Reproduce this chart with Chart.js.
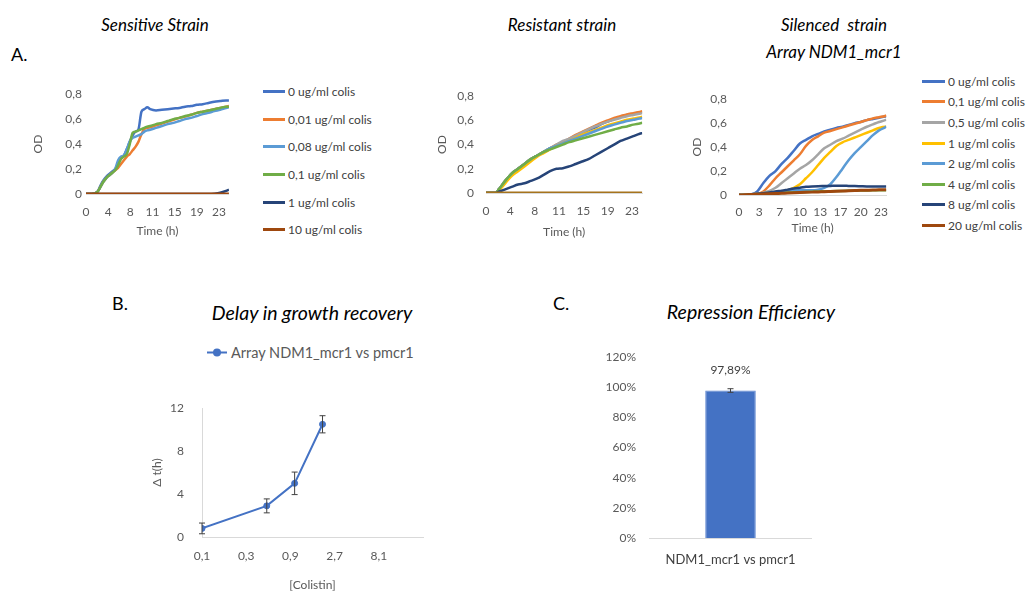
<!DOCTYPE html>
<html>
<head>
<meta charset="utf-8">
<script src="https://cdn.jsdelivr.net/npm/chart.js@4.4.0/dist/chart.umd.min.js"></script>
<style>
  body { margin: 0; background: #fff; font-family: Lato, "Open Sans", sans-serif; }
  #fig { position: relative; width: 1027px; height: 592px; overflow: hidden; background: #fff; }
  #fig canvas { position: absolute; }
  .txt { position: absolute; transform: translate(-50%, -50%); white-space: pre; color: #000; }
  .ttl { font-style: italic; font-size: 17px; }
  .big { font-size: 19.5px; }
  .tag { position: absolute; transform: translateY(-50%); font-size: 18px; color: #000; }
  .legend { position: absolute; font-size: 12px; color: #404040; }
  .legend .row { display: flex; align-items: center; white-space: nowrap; }
  .legend .swatch { display: inline-block; height: 3px; margin-right: 3px; }
  #legB { font-size: 14.5px; color: #595959; display: flex; align-items: center; transform: translateY(-50%); }
  #legB .mk { position: relative; width: 20px; height: 2px; background: #4472C4; margin-right: 4px; }
  #legB .mk i { position: absolute; left: 6px; top: -3px; width: 8px; height: 8px; border-radius: 50%; background: #4472C4; }
</style>
</head>
<body>
<div id="fig">
  <div class="txt ttl" style="left:155px;top:24px">Sensitive Strain</div>
  <div class="tag" style="left:11px;top:54px">A.</div>
  <div class="txt ttl" style="left:562px;top:24px">Resistant strain</div>
  <div class="txt ttl" style="left:834px;top:24px">Silenced  strain</div>
  <div class="txt ttl" style="left:834px;top:51px">Array NDM1_mcr1</div>

  <div class="tag" style="left:112px;top:303px">B.</div>
  <div class="txt ttl big" style="left:312px;top:312px">Delay in growth recovery</div>
  <div class="tag" style="left:553px;top:303px">C.</div>
  <div class="txt ttl big" style="left:751px;top:311px">Repression Efficiency</div>

  <canvas id="sensChart" width="217" height="157" style="left:20px;top:83px"></canvas>
  <canvas id="resChart" width="225" height="164" style="left:425px;top:77px"></canvas>
  <canvas id="silChart" width="218" height="157" style="left:680px;top:80px"></canvas>
  <canvas id="delayChart" width="288" height="209" style="left:140px;top:383px"></canvas>
  <canvas id="effChart" width="212" height="241" style="left:600px;top:337px"></canvas>

  <div class="legend" id="legSens" style="left:263px;top:78px"></div>
  <div class="legend" id="legSil" style="left:922px;top:71px"></div>
  <div class="legend" id="legB" style="left:207px;top:352px"></div>
</div>

<script>
// ---- growth curves (OD over time) ----
const concLabelsSens = ['0 ug/ml colis', '0,01 ug/ml colis', '0,08 ug/ml colis', '0,1 ug/ml colis', '1 ug/ml colis', '10 ug/ml colis'];
const concLabelsSil = ['0 ug/ml colis', '0,1 ug/ml colis', '0,5 ug/ml colis', '1 ug/ml colis', '2 ug/ml colis', '4 ug/ml colis', '8 ug/ml colis', '20 ug/ml colis'];
const colorsSens = ['#4472C4', '#ED7D31', '#5B9BD5', '#70AD47', '#264478', '#9E480E'];
const colorsRes = ['#4472C4', '#ED7D31', '#A5A5A5', '#FFC000', '#5B9BD5', '#70AD47', '#264478', '#A5731D'];
const colorsSil = ['#4472C4', '#ED7D31', '#A5A5A5', '#FFC000', '#5B9BD5', '#70AD47', '#264478', '#9E480E'];

// sensitive strain
const hoursSens = [0, 1, 2, 2.5, 3, 3.5, 4, 4.5, 5, 5.5, 6, 6.5, 7, 7.5, 8, 8.5, 9, 9.5, 10, 10.5, 11, 12, 13, 14, 15, 16, 17, 18, 19, 20, 21, 22, 23, 24, 24.5];
const sens0   = [0, 0, 0.02, 0.07, 0.11, 0.14, 0.16, 0.18, 0.20, 0.24, 0.29, 0.31, 0.36, 0.42, 0.47, 0.50, 0.52, 0.66, 0.68, 0.695, 0.68, 0.67, 0.675, 0.68, 0.685, 0.69, 0.70, 0.705, 0.715, 0.72, 0.73, 0.74, 0.745, 0.75, 0.75];
const sens001 = [0, 0, 0.02, 0.06, 0.10, 0.13, 0.15, 0.17, 0.19, 0.21, 0.24, 0.27, 0.30, 0.32, 0.35, 0.38, 0.42, 0.48, 0.52, 0.53, 0.535, 0.55, 0.565, 0.58, 0.595, 0.61, 0.62, 0.635, 0.65, 0.66, 0.67, 0.68, 0.69, 0.70, 0.705];
const sens008 = [0, 0, 0.02, 0.06, 0.10, 0.13, 0.15, 0.17, 0.20, 0.27, 0.30, 0.31, 0.36, 0.42, 0.45, 0.46, 0.47, 0.48, 0.50, 0.51, 0.515, 0.53, 0.545, 0.56, 0.57, 0.585, 0.60, 0.61, 0.625, 0.64, 0.65, 0.665, 0.675, 0.69, 0.695];
const sens01  = [0, 0, 0.02, 0.06, 0.10, 0.13, 0.15, 0.17, 0.19, 0.23, 0.28, 0.30, 0.32, 0.40, 0.49, 0.50, 0.51, 0.52, 0.53, 0.54, 0.545, 0.56, 0.57, 0.585, 0.60, 0.61, 0.625, 0.635, 0.65, 0.66, 0.67, 0.68, 0.69, 0.70, 0.70];
const sens1   = [0, 0, 0, 0, 0, 0, 0, 0, 0, 0, 0, 0, 0, 0, 0, 0, 0, 0, 0, 0, 0, 0, 0, 0, 0, 0, 0, 0, 0, 0, 0, 0.003, 0.01, 0.025, 0.035];
const sens10  = [0, 0, 0, 0, 0, 0, 0, 0, 0, 0, 0, 0, 0, 0, 0, 0, 0, 0, 0, 0, 0, 0, 0, 0, 0, 0, 0, 0, 0, 0, 0, 0, 0, 0, 0];

// resistant strain
const hoursRes = [0, 1, 1.5, 2, 3, 4, 5, 6, 7, 8, 9, 10, 11, 12, 13, 14, 15, 16, 17, 18, 19, 20, 21, 22, 23, 24, 24.4];
const res0   = [0, 0, 0, 0.03, 0.10, 0.16, 0.20, 0.24, 0.28, 0.31, 0.34, 0.37, 0.39, 0.42, 0.44, 0.47, 0.49, 0.52, 0.54, 0.57, 0.59, 0.61, 0.63, 0.645, 0.655, 0.665, 0.665];
const res01  = [0, 0, 0, 0.03, 0.10, 0.16, 0.20, 0.24, 0.28, 0.31, 0.34, 0.37, 0.40, 0.42, 0.45, 0.48, 0.505, 0.53, 0.555, 0.58, 0.60, 0.62, 0.635, 0.65, 0.66, 0.67, 0.675];
const res05  = [0, 0, 0, 0.03, 0.10, 0.16, 0.20, 0.24, 0.28, 0.31, 0.34, 0.37, 0.40, 0.43, 0.45, 0.475, 0.50, 0.525, 0.55, 0.57, 0.59, 0.605, 0.62, 0.635, 0.645, 0.655, 0.66];
const res1   = [0, 0, 0, 0.02, 0.08, 0.14, 0.18, 0.22, 0.26, 0.30, 0.33, 0.36, 0.39, 0.41, 0.43, 0.455, 0.48, 0.50, 0.52, 0.54, 0.56, 0.575, 0.59, 0.605, 0.615, 0.625, 0.63];
const res2   = [0, 0, 0, 0.03, 0.10, 0.16, 0.20, 0.24, 0.28, 0.31, 0.34, 0.37, 0.39, 0.41, 0.43, 0.45, 0.47, 0.49, 0.51, 0.53, 0.55, 0.565, 0.58, 0.595, 0.605, 0.615, 0.62];
const res4   = [0, 0, 0, 0.03, 0.10, 0.16, 0.20, 0.24, 0.28, 0.31, 0.34, 0.36, 0.38, 0.40, 0.42, 0.435, 0.45, 0.465, 0.48, 0.495, 0.51, 0.525, 0.54, 0.55, 0.565, 0.575, 0.58];
const res8   = [0, 0, 0, 0.01, 0.03, 0.05, 0.07, 0.08, 0.10, 0.12, 0.15, 0.18, 0.20, 0.205, 0.22, 0.24, 0.26, 0.28, 0.31, 0.34, 0.37, 0.40, 0.43, 0.45, 0.47, 0.49, 0.495];
const res20  = [0, 0, 0, 0, 0, 0, 0, 0, 0, 0, 0, 0, 0, 0, 0, 0, 0, 0, 0, 0, 0, 0, 0, 0, 0, 0, 0];

// silenced strain (array NDM1_mcr1)
const hoursSil = [0, 1, 2, 3, 4, 5, 6, 7, 8, 9, 10, 11, 12, 13, 14, 15, 16, 17, 18, 19, 20, 21, 22, 23, 24, 24.2];
const sil0  = [0, 0, 0.005, 0.03, 0.10, 0.16, 0.20, 0.26, 0.31, 0.37, 0.43, 0.46, 0.49, 0.51, 0.53, 0.545, 0.56, 0.57, 0.585, 0.60, 0.61, 0.625, 0.635, 0.645, 0.655, 0.655];
const sil01 = [0, 0, 0.005, 0.01, 0.03, 0.08, 0.14, 0.19, 0.24, 0.29, 0.34, 0.41, 0.46, 0.49, 0.52, 0.535, 0.55, 0.565, 0.58, 0.595, 0.61, 0.625, 0.64, 0.65, 0.66, 0.665];
const sil05 = [0, 0, 0.005, 0.01, 0.02, 0.035, 0.06, 0.10, 0.14, 0.18, 0.22, 0.25, 0.29, 0.34, 0.39, 0.42, 0.45, 0.47, 0.495, 0.52, 0.545, 0.57, 0.59, 0.61, 0.625, 0.63];
const sil1  = [0, 0, 0.005, 0.01, 0.015, 0.02, 0.025, 0.03, 0.04, 0.06, 0.09, 0.14, 0.19, 0.25, 0.31, 0.36, 0.41, 0.44, 0.46, 0.48, 0.50, 0.52, 0.54, 0.56, 0.57, 0.57];
const sil2  = [0, 0, 0.005, 0.01, 0.015, 0.02, 0.025, 0.03, 0.035, 0.04, 0.04, 0.04, 0.04, 0.045, 0.06, 0.09, 0.15, 0.22, 0.29, 0.35, 0.40, 0.45, 0.50, 0.54, 0.565, 0.57];
const sil4  = [0, 0, 0.003, 0.006, 0.01, 0.012, 0.015, 0.017, 0.02, 0.022, 0.024, 0.026, 0.028, 0.03, 0.031, 0.032, 0.033, 0.034, 0.035, 0.036, 0.037, 0.038, 0.039, 0.04, 0.04, 0.04];
const sil8  = [0, 0, 0.005, 0.01, 0.015, 0.02, 0.03, 0.035, 0.045, 0.055, 0.06, 0.068, 0.072, 0.074, 0.075, 0.076, 0.077, 0.077, 0.076, 0.075, 0.073, 0.071, 0.07, 0.07, 0.07, 0.07];
const sil20 = [0, 0.002, 0.004, 0.006, 0.008, 0.010, 0.012, 0.014, 0.016, 0.018, 0.020, 0.022, 0.024, 0.026, 0.027, 0.029, 0.031, 0.033, 0.035, 0.037, 0.039, 0.040, 0.041, 0.043, 0.044, 0.045];

// axis ticks
const odTicks = [0, 0.2, 0.4, 0.6, 0.8];
const odTickLabels = ['0', '0,2', '0,4', '0,6', '0,8'];
const hourTicksA = [0, 3.8, 7.6, 11.4, 15.2, 19, 22.8];
const hourTickLabelsA = ['0', '4', '8', '11', '15', '19', '23'];
const hourTicksSil = [0, 3.33, 6.67, 10, 13.33, 16.67, 20, 23.33];
const hourTickLabelsSil = ['0', '3', '7', '10', '13', '17', '20', '23'];

// ---- delay in growth recovery ----
const colistin = [0.1, 0.5, 1, 2];
const delayHours = [0.8, 2.9, 5.0, 10.5];
const delayErr = [0.5, 0.65, 1.05, 0.8];
const colistinTicks = [0.1, 0.3, 0.9, 2.7, 8.1];
const colistinTickLabels = ['0,1', '0,3', '0,9', '2,7', '8,1'];
const delayTicks = [0, 4, 8, 12];

// ---- repression efficiency ----
const effLabels = ['NDM1_mcr1 vs pmcr1'];
const effValues = [0.9789];
const effErr = [0.012];
const pctTicks = [0, 0.2, 0.4, 0.6, 0.8, 1.0, 1.2];

Chart.defaults.font.family = 'Lato, "Open Sans", sans-serif';
Chart.defaults.font.size = 12;
Chart.defaults.color = '#595959';

const tickGrey = '#595959';
const axisLine = '#D9D9D9';

// vertical error bars from dataset.errors
const errorBars = {
  id: 'errorBars',
  afterDatasetsDraw(chart) {
    const ctx = chart.ctx;
    chart.data.datasets.forEach((ds, i) => {
      if (!ds.errors) return;
      const meta = chart.getDatasetMeta(i);
      const yScale = chart.scales[meta.yAxisID];
      meta.data.forEach((el, j) => {
        const v = meta.controller.getParsed(j).y;
        const e = ds.errors[j];
        const top = yScale.getPixelForValue(v + e);
        const bot = yScale.getPixelForValue(v - e);
        const cap = ds.capWidth || 3;
        ctx.save();
        ctx.strokeStyle = '#404040';
        ctx.lineWidth = 1;
        ctx.beginPath();
        ctx.moveTo(el.x, top); ctx.lineTo(el.x, bot);
        ctx.moveTo(el.x - cap, top); ctx.lineTo(el.x + cap, top);
        ctx.moveTo(el.x - cap, bot); ctx.lineTo(el.x + cap, bot);
        ctx.stroke();
        ctx.restore();
      });
    });
  }
};

// percentage label above each bar
const barValueLabel = {
  id: 'barValueLabel',
  afterDatasetsDraw(chart) {
    const ctx = chart.ctx;
    const meta = chart.getDatasetMeta(0);
    meta.data.forEach((el, j) => {
      const v = chart.data.datasets[0].data[j];
      ctx.save();
      ctx.fillStyle = '#404040';
      ctx.font = '12px Lato, "Open Sans", sans-serif';
      ctx.textAlign = 'center';
      ctx.textBaseline = 'middle';
      ctx.fillText((v * 100).toFixed(2).replace('.', ',') + '%', el.x, el.y - 20);
      ctx.restore();
    });
  }
};

function growthChart(id, hours, series, colors, labels, xTicks, xTickLabels, g) {
  // Chart.js paints the first dataset on top; push them in reverse so the
  // last concentration ends up top-most, like the spreadsheet original
  const datasets = [];
  series.forEach((vals, i) => {
    datasets.unshift({
      label: labels[i],
      data: hours.map((h, k) => ({ x: h, y: vals[k] })),
      borderColor: colors[i],
      backgroundColor: colors[i],
      borderWidth: i === series.length - 1 ? 3 : 2.5,
      pointRadius: 0,
      cubicInterpolationMode: 'monotone'
    });
  });
  return new Chart(document.getElementById(id), {
    type: 'line',
    data: { datasets },
    options: {
      responsive: false,
      animation: false,
      layout: { padding: { top: 10, right: 0, bottom: 0, left: 0 } },
      plugins: { legend: { display: false }, tooltip: { enabled: false } },
      scales: {
        x: {
          type: 'linear',
          min: 0,
          max: g.xMax,
          afterBuildTicks: s => { s.ticks = xTicks.map(v => ({ value: v })); },
          afterFit: s => { s.height = g.xh; },
          ticks: { autoSkip: false, maxRotation: 0, padding: g.xPad, color: tickGrey, callback: (v, i) => xTickLabels[i] },
          grid: { display: false, drawTicks: false },
          border: { display: true, color: axisLine, width: 1 },
          title: { display: true, text: 'Time (h)', color: tickGrey, padding: { top: 0, bottom: 2 } }
        },
        y: {
          min: 0,
          max: 0.8,
          afterBuildTicks: s => { s.ticks = odTicks.map(v => ({ value: v })); },
          afterFit: s => { s.width = g.yw; },
          ticks: { padding: g.yPad, color: tickGrey, callback: (v, i) => odTickLabels[i] },
          grid: { display: false, drawTicks: false },
          border: { display: false },
          title: { display: true, text: 'OD', color: tickGrey, padding: { top: g.yTitlePad, bottom: 0 } }
        }
      }
    }
  });
}

growthChart('sensChart', hoursSens, [sens0, sens001, sens008, sens01, sens1, sens10], colorsSens, concLabelsSens,
  hourTicksA, hourTickLabelsA, { xMax: 24.5, xh: 46, yw: 66, xPad: 11, yPad: 4, yTitlePad: 11 });

growthChart('resChart', hoursRes, [res0, res01, res05, res1, res2, res4, res8, res20], colorsRes, concLabelsSil,
  hourTicksA, hourTickLabelsA, { xMax: 24.4, xh: 48, yw: 61, xPad: 11, yPad: 12, yTitlePad: 10 });

growthChart('silChart', hoursSil, [sil0, sil01, sil05, sil1, sil2, sil4, sil8, sil20], colorsSil, concLabelsSil,
  hourTicksSil, hourTickLabelsSil, { xMax: 24.2, xh: 42, yw: 59, xPad: 10, yPad: 12, yTitlePad: 10 });

// legends for the growth panels
function fillLegend(elId, labels, colors, rowH, swatchW) {
  const el = document.getElementById(elId);
  labels.forEach((lab, i) => {
    const row = document.createElement('div');
    row.className = 'row';
    row.style.height = rowH + 'px';
    const sw = document.createElement('span');
    sw.className = 'swatch';
    sw.style.width = swatchW + 'px';
    sw.style.background = colors[i];
    row.appendChild(sw);
    row.appendChild(document.createTextNode(lab));
    el.appendChild(row);
  });
}
fillLegend('legSens', concLabelsSens, colorsSens, 27.6, 22);
fillLegend('legSil', concLabelsSil, colorsSil, 20.6, 23);

// delay chart
const delayLabel = 'Array NDM1_mcr1 vs pmcr1';
new Chart(document.getElementById('delayChart'), {
  type: 'line',
  data: {
    datasets: [{
      label: delayLabel,
      data: colistin.map((c, i) => ({ x: c, y: delayHours[i] })),
      errors: delayErr,
      capWidth: 3,
      borderColor: '#4472C4',
      backgroundColor: '#4472C4',
      borderWidth: 2,
      pointRadius: 3,
      pointBorderWidth: 1,
      pointBackgroundColor: '#4472C4',
      pointBorderColor: '#4472C4',
      tension: 0
    }]
  },
  plugins: [errorBars],
  options: {
    responsive: false,
    animation: false,
    layout: { padding: { top: 10, right: 0, bottom: 0, left: 0 } },
    plugins: { legend: { display: false }, tooltip: { enabled: false } },
    scales: {
      x: {
        type: 'logarithmic',
        min: 0.1,
        max: 24.3,
        afterBuildTicks: s => { s.ticks = colistinTicks.map(v => ({ value: v })); },
        afterFit: s => { s.height = 55; },
        ticks: { autoSkip: false, maxRotation: 0, padding: 12, color: tickGrey, callback: (v, i) => colistinTickLabels[i] },
        grid: { display: false, drawTicks: false },
        border: { display: true, color: axisLine, width: 1 },
        title: { display: true, text: '[Colistin]', color: tickGrey, padding: { top: 0, bottom: 0 } }
      },
      y: {
        min: 0,
        max: 12,
        afterBuildTicks: s => { s.ticks = delayTicks.map(v => ({ value: v })); },
        afterFit: s => { s.width = 62; },
        ticks: { padding: 18, color: tickGrey },
        grid: { display: false, drawTicks: false },
        border: { display: true, color: axisLine, width: 1 },
        title: { display: true, text: 'Δ t(h)', color: tickGrey, padding: { top: 10, bottom: 0 } }
      }
    }
  }
});

const legB = document.getElementById('legB');
legB.innerHTML = '<span class="mk"><i></i></span>';
legB.appendChild(document.createTextNode(delayLabel));

// repression efficiency bar
new Chart(document.getElementById('effChart'), {
  type: 'bar',
  data: {
    labels: effLabels,
    datasets: [{
      data: effValues,
      errors: effErr,
      capWidth: 3,
      backgroundColor: '#4472C4',
      borderColor: '#5B84CF',
      borderWidth: 1,
      barPercentage: 0.31,
      categoryPercentage: 1
    }]
  },
  plugins: [errorBars, barValueLabel],
  options: {
    responsive: false,
    animation: false,
    layout: { padding: { top: 10, right: 0, bottom: 0, left: 0 } },
    plugins: { legend: { display: false }, tooltip: { enabled: false } },
    scales: {
      x: {
        afterFit: s => { s.height = 40; },
        ticks: { padding: 14, color: '#404040', font: { size: 13 } },
        grid: { display: false, drawTicks: false },
        border: { display: true, color: axisLine, width: 1 }
      },
      y: {
        min: 0,
        max: 1.2,
        afterBuildTicks: s => { s.ticks = pctTicks.map(v => ({ value: v })); },
        afterFit: s => { s.width = 49; },
        ticks: { padding: 13, color: tickGrey, callback: v => Math.round(v * 100) + '%' },
        grid: { display: false, drawTicks: false },
        border: { display: false }
      }
    }
  }
});
</script>
</body>
</html>
